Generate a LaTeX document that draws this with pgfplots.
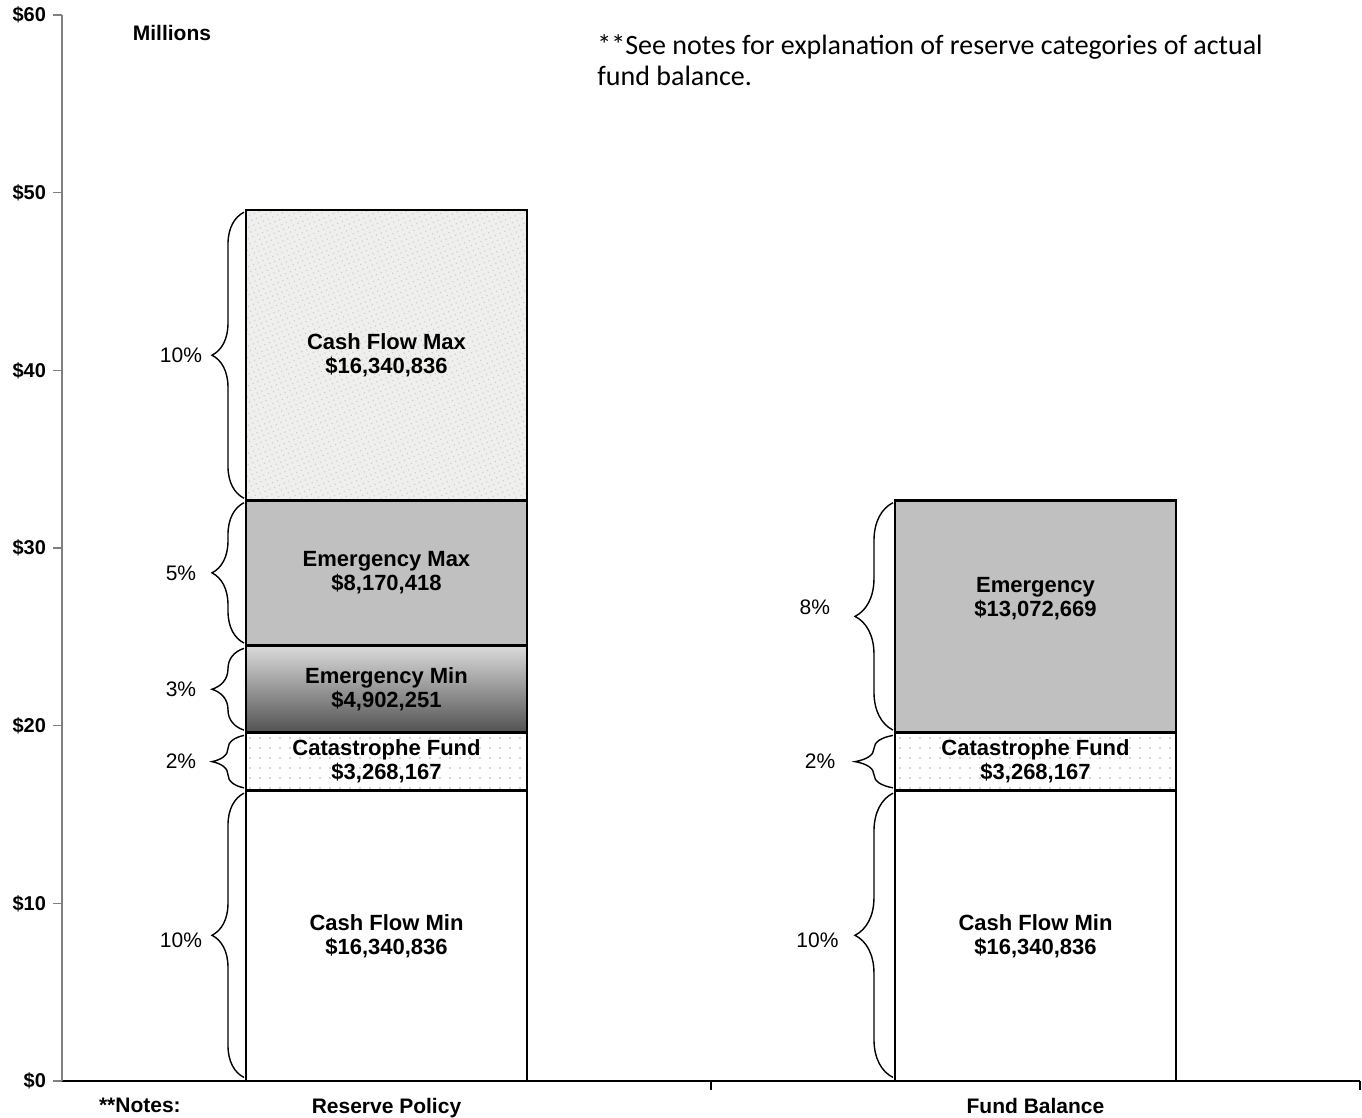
\documentclass[border=0pt]{standalone}
\usepackage{pgfplots}
\usepackage{pgfplotstable}
\pgfplotsset{compat=1.18}
\usepackage{fontspec}
\setmainfont{Liberation Sans}
\newfontfamily\calibri{Carlito}
\usetikzlibrary{patterns.meta, decorations.pathreplacing}
\definecolor{emmax}{HTML}{C0C0C0}
\definecolor{cfmaxfill}{HTML}{EFEFED}

\pgfplotstableread{
x cfmin cat emmin emmax cfmax
0 16.340836 3.268167 4.902251 8.170418 16.340836
1 16.340836 3.268167 0 13.072669 0
}\data

\newcommand{\lbl}{\bfseries\fontsize{11}{12.3}\selectfont}
\newcommand{\pct}{\fontsize{10.5}{12}\selectfont}
\tikzset{pb/.style={decorate, decoration={brace, amplitude=16pt}, line width=0.7pt},
         fb/.style={decorate, decoration={brace, amplitude=19pt}, line width=0.7pt},
         catpat/.style={pattern={Dots[distance=5pt, radius=0.4pt]}, pattern color=black!32},
         cfpat/.style={pattern={Dots[distance=2.6pt, radius=0.4pt, angle=23]}, pattern color=black!20}}

\begin{document}
\begin{tikzpicture}
\useasboundingbox (-31pt,-18.5pt) rectangle (650pt,540.5pt);
\begin{axis}[
  at={(0,0)}, anchor=south west,
  scale only axis, width=649pt, height=533pt,
  ybar stacked, bar width=0.433,
  xmin=-0.5, xmax=1.5, ymin=0, ymax=60,
  axis x line=bottom, axis y line=left,
  axis line style={-},
  x axis line style={black, line width=0.8pt},
  y axis line style={black!50, line width=1pt},
  tick align=outside,
  xtick={0.5,1.5}, xticklabels={},
  x tick style={black, line width=0.6pt},
  major tick length=4.5pt,
  extra x ticks={-0.38,0,1},
  extra x tick labels={**Notes:, Reserve Policy, Fund Balance},
  extra x tick style={major tick length=0pt},
  x tick label style={font=\bfseries\fontsize{10.5}{12}\selectfont, yshift=-5pt},
  ytick={0,10,20,30,40,50,60},
  yticklabels={\$0,\$10,\$20,\$30,\$40,\$50,\$60},
  y tick style={black!50, line width=0.8pt},
  y tick label style={font=\bfseries\fontsize{10}{12}\selectfont},
  clip=false,
]
\addplot[draw=black, line width=1.2pt, fill=white] table[x=x,y=cfmin]{\data};
\addplot[draw=black, line width=1.2pt, fill=white, postaction={catpat}] table[x=x,y=cat]{\data};
\addplot[draw=black, line width=1.2pt, top color=black!14, bottom color=black!68] table[x=x,y=emmin]{\data};
\addplot[draw=black, line width=1.2pt, fill=emmax] table[x=x,y=emmax]{\data};
\addplot[draw=black, line width=1.2pt, fill=cfmaxfill, postaction={cfpat}] table[x=x,y=cfmax]{\data};

\coordinate (L1) at (axis cs:0,40.85);
\coordinate (L2) at (axis cs:0,28.6);
\coordinate (L3) at (axis cs:0,22.06);
\coordinate (L4) at (axis cs:0,17.98);
\coordinate (L5) at (axis cs:0,8.17);
\coordinate (R1) at (axis cs:1,27.13);
\coordinate (R2) at (axis cs:1,17.98);
\coordinate (R3) at (axis cs:1,8.17);

% braces
\draw[pb] ([xshift=-1pt]axis cs:-0.2165,0.2) -- ([xshift=-1pt]axis cs:-0.2165,16.2);
\draw[pb] ([xshift=-1pt]axis cs:-0.2165,16.5) -- ([xshift=-1pt]axis cs:-0.2165,19.45);
\draw[pb] ([xshift=-1pt]axis cs:-0.2165,19.75) -- ([xshift=-1pt]axis cs:-0.2165,24.35);
\draw[pb] ([xshift=-1pt]axis cs:-0.2165,24.65) -- ([xshift=-1pt]axis cs:-0.2165,32.55);
\draw[pb] ([xshift=-1pt]axis cs:-0.2165,32.8) -- ([xshift=-1pt]axis cs:-0.2165,48.9);
\draw[fb] ([xshift=-1pt]axis cs:0.7835,0.2) -- ([xshift=-1pt]axis cs:0.7835,16.2);
\draw[fb] ([xshift=-1pt]axis cs:0.7835,16.5) -- ([xshift=-1pt]axis cs:0.7835,19.45);
\draw[fb] ([xshift=-1pt]axis cs:0.7835,19.75) -- ([xshift=-1pt]axis cs:0.7835,32.55);

% percent labels
\node at (axis cs:-0.3167,7.9) {\pct 10\%};
\node at (axis cs:-0.3167,17.98) {\pct 2\%};
\node at (axis cs:-0.3167,22.06) {\pct 3\%};
\node at (axis cs:-0.3167,28.6) {\pct 5\%};
\node at (axis cs:-0.3167,40.85) {\pct 10\%};
\node at (axis cs:0.664,7.9) {\pct 10\%};
\node at (axis cs:0.668,17.98) {\pct 2\%};
\node at (axis cs:0.660,26.67) {\pct 8\%};

% texts
\node[font=\bfseries\fontsize{10.5}{12}\selectfont] at (rel axis cs:0.0847,0.983) {Millions};
\node[anchor=north west, inner sep=0pt, align=left, font=\calibri\fontsize{14}{15.5}\selectfont]
  at (rel axis cs:0.4122,0.982) {**See notes for explanation of reserve categories of actual\\fund balance.};
\end{axis}
\node[align=center] at (L1) {\lbl Cash Flow Max\\\lbl \$16,340,836};
\node[align=center] at (L2) {\lbl Emergency Max\\\lbl \$8,170,418};
\node[align=center] at (L3) {\lbl Emergency Min\\\lbl \$4,902,251};
\node[align=center] at (L4) {\lbl Catastrophe Fund\\\lbl \$3,268,167};
\node[align=center] at (L5) {\lbl Cash Flow Min\\\lbl \$16,340,836};
\node[align=center] at (R1) {\lbl Emergency\\\lbl \$13,072,669};
\node[align=center] at (R2) {\lbl Catastrophe Fund\\\lbl \$3,268,167};
\node[align=center] at (R3) {\lbl Cash Flow Min\\\lbl \$16,340,836};
\end{tikzpicture}
\end{document}
